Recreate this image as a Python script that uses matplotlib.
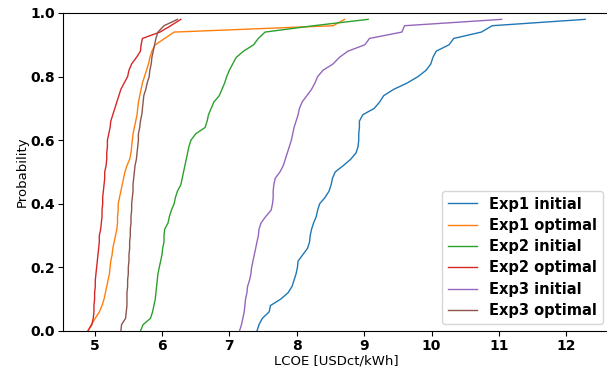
import numpy as np
import matplotlib
matplotlib.use("Agg")
import matplotlib.pyplot as plt

# sorted LCOE samples [USDct/kWh] for each experiment
exp1_initial = [7.41, 7.44, 7.49, 7.59, 7.61, 7.76, 7.87, 7.93, 7.96, 7.99,
                8.01, 8.02, 8.09, 8.16, 8.19, 8.20, 8.22, 8.25, 8.29, 8.31,
                8.34, 8.42, 8.48, 8.51, 8.53, 8.57, 8.69, 8.80, 8.88, 8.91,
                8.92, 8.92, 8.93, 8.93, 8.98, 9.15, 9.23, 9.29, 9.44, 9.64,
                9.80, 9.92, 9.99, 10.02, 10.07, 10.26, 10.33, 10.74, 10.90, 12.28]

exp1_optimal = [4.90, 4.95, 5.01, 5.07, 5.11, 5.14, 5.16, 5.18, 5.20, 5.22,
                5.23, 5.24, 5.26, 5.27, 5.29, 5.31, 5.33, 5.34, 5.34, 5.35,
                5.35, 5.37, 5.39, 5.41, 5.43, 5.45, 5.48, 5.52, 5.54, 5.55,
                5.56, 5.57, 5.59, 5.61, 5.63, 5.64, 5.65, 5.67, 5.69, 5.71,
                5.74, 5.77, 5.80, 5.82, 5.85, 5.90, 6.04, 6.18, 8.54, 8.71]

exp2_initial = [5.68, 5.72, 5.83, 5.86, 5.88, 5.90, 5.91, 5.92, 5.93, 5.94,
                5.96, 5.98, 6.00, 6.01, 6.03, 6.03, 6.04, 6.09, 6.11, 6.14,
                6.18, 6.20, 6.23, 6.28, 6.30, 6.32, 6.34, 6.36, 6.38, 6.40,
                6.43, 6.50, 6.64, 6.67, 6.69, 6.73, 6.77, 6.85, 6.89, 6.93,
                6.96, 7.00, 7.05, 7.10, 7.21, 7.36, 7.43, 7.53, 8.25, 9.06]

exp2_optimal = [4.90, 4.96, 4.98, 4.99, 4.99, 5.00, 5.00, 5.01, 5.01, 5.02,
                5.03, 5.04, 5.05, 5.06, 5.07, 5.07, 5.09, 5.10, 5.11, 5.11,
                5.12, 5.12, 5.13, 5.14, 5.15, 5.15, 5.17, 5.18, 5.18, 5.19,
                5.19, 5.21, 5.23, 5.24, 5.27, 5.30, 5.33, 5.36, 5.39, 5.44,
                5.49, 5.51, 5.55, 5.62, 5.68, 5.69, 5.71, 5.97, 6.13, 6.28]

exp3_initial = [7.15, 7.18, 7.20, 7.22, 7.23, 7.24, 7.26, 7.27, 7.30, 7.32,
                7.33, 7.35, 7.37, 7.39, 7.41, 7.43, 7.44, 7.47, 7.54, 7.62,
                7.64, 7.65, 7.65, 7.66, 7.68, 7.75, 7.80, 7.83, 7.86, 7.89,
                7.92, 7.94, 7.96, 7.99, 8.02, 8.04, 8.08, 8.15, 8.22, 8.27,
                8.31, 8.39, 8.54, 8.63, 8.76, 9.01, 9.08, 9.56, 9.60, 11.04]

exp3_optimal = [5.39, 5.40, 5.46, 5.47, 5.48, 5.48, 5.48, 5.49, 5.49, 5.50,
                5.50, 5.51, 5.51, 5.52, 5.52, 5.53, 5.53, 5.54, 5.54, 5.55,
                5.55, 5.56, 5.57, 5.57, 5.58, 5.59, 5.60, 5.62, 5.63, 5.64,
                5.65, 5.65, 5.67, 5.68, 5.70, 5.71, 5.72, 5.73, 5.76, 5.78,
                5.81, 5.82, 5.84, 5.85, 5.87, 5.89, 5.91, 5.94, 6.03, 6.23]

series = [
    ("Exp1 initial", exp1_initial),
    ("Exp1 optimal", exp1_optimal),
    ("Exp2 initial", exp2_initial),
    ("Exp2 optimal", exp2_optimal),
    ("Exp3 initial", exp3_initial),
    ("Exp3 optimal", exp3_optimal),
]

fig = plt.figure(figsize=(6.07, 3.70), dpi=100)
ax = fig.add_axes([63 / 607, 39 / 370, 547 / 607, 318 / 370])

for name, values in series:
    values = np.sort(values)
    prob = np.arange(len(values)) / len(values)
    ax.plot(values, prob, lw=1, label=name)

ax.set_ylim(0, 1)
ax.set_xticks(range(5, 13))
ax.set_yticks([0.0, 0.2, 0.4, 0.6, 0.8, 1.0])
ax.tick_params(axis="both", pad=2.5)
for lbl in ax.get_xticklabels() + ax.get_yticklabels():
    lbl.set_fontweight("bold")
    lbl.set_fontsize(10)

ax.set_xlabel("LCOE [USDct/kWh]", fontsize=9.5, labelpad=1)
ax.set_ylabel("Probability", fontsize=9.5, labelpad=1)

ax.legend(loc="lower right", prop={"weight": "bold", "size": 10.5},
          labelspacing=0.43)

fig.savefig("out.png", dpi=100)
plt.close(fig)
